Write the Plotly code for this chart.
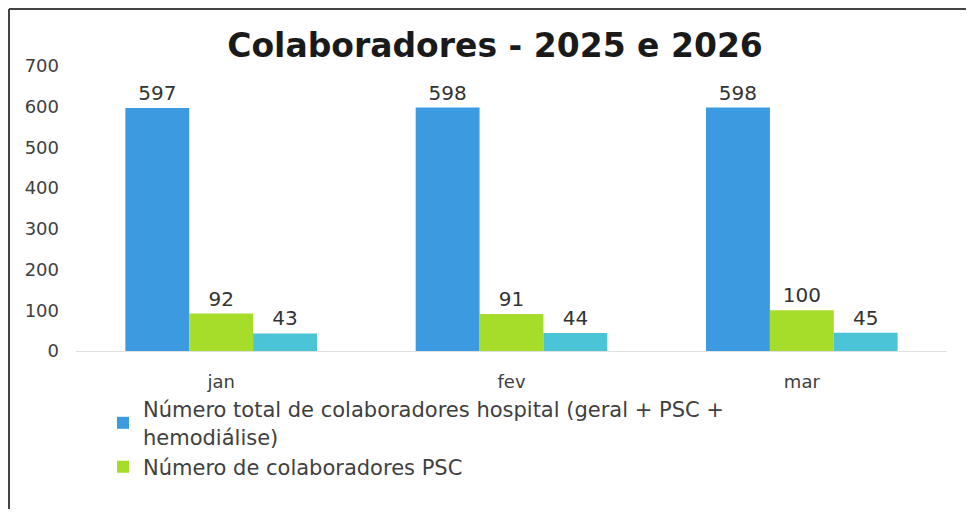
import plotly.graph_objects as go

categories = ["jan", "fev", "mar"]
total_hospital = [597, 598, 598]
colab_psc = [92, 91, 100]
colab_third = [43, 44, 45]

names = [
    "Número total de colaboradores hospital (geral + PSC +<br>hemodiálise)",
    "Número de colaboradores PSC",
    "Número de colaboradores hemodiálise",
]
colors = ["#3b9ae0", "#a6dc2a", "#4cc4d8"]
series = [total_hospital, colab_psc, colab_third]
show = [True, True, False]

W, H = 958, 501
ml, mr, mt, mb = 68, 19, 58, 158

fig = go.Figure()
for name, vals, col, sh in zip(names, series, colors, show):
    fig.add_trace(go.Bar(
        x=categories, y=vals, name=name, marker_color=col,
        marker_line_width=0, showlegend=sh,
        text=vals, textposition="outside", cliponaxis=False,
        textfont=dict(family="DejaVu Sans", size=20, color="#333333"),
    ))

pw = W - ml - mr
ph = H - mt - mb
def px_x(p):
    return (p - ml) / pw
def px_y(p):
    return (H - mb - p) / ph

fig.update_layout(
    width=W, height=H,
    margin=dict(l=ml, r=mr, t=mt, b=mb),
    paper_bgcolor="white", plot_bgcolor="white",
    barmode="group", bargap=0.34, bargroupgap=0,
    title=dict(text="<b>Colaboradores - 2025 e 2026</b>", x=487 / W, xanchor="center",
               y=1 - 37 / H, yanchor="middle",
               font=dict(family="DejaVu Sans", size=33, color="#1a1a1a")),
    font=dict(family="DejaVu Sans", color="#404040"),
    legend=dict(orientation="v", x=px_x(95), xanchor="left", y=px_y(381), yanchor="top",
                font=dict(family="DejaVu Sans", size=21, color="#404040"),
                itemwidth=30, tracegroupgap=0, bgcolor="rgba(0,0,0,0)"),
    xaxis=dict(showgrid=False, showline=True, linecolor="#e0e0e0", linewidth=1,
               ticks="", tickfont=dict(size=18, color="#404040"), ticklabelstandoff=14),
    yaxis=dict(range=[0, 700], dtick=100, showgrid=False, zeroline=False, showline=False,
               ticks="", tickfont=dict(size=18, color="#404040"), ticklabelstandoff=16),
    shapes=[
        dict(type="line", xref="paper", yref="paper", x0=px_x(1), x1=px_x(W + 5),
             y0=px_y(1), y1=px_y(1), line=dict(color="#444444", width=2)),
        dict(type="line", xref="paper", yref="paper", x0=px_x(1), x1=px_x(1),
             y0=px_y(1), y1=px_y(H + 5), line=dict(color="#444444", width=2)),
    ],
)

fig.write_html("out.html")
